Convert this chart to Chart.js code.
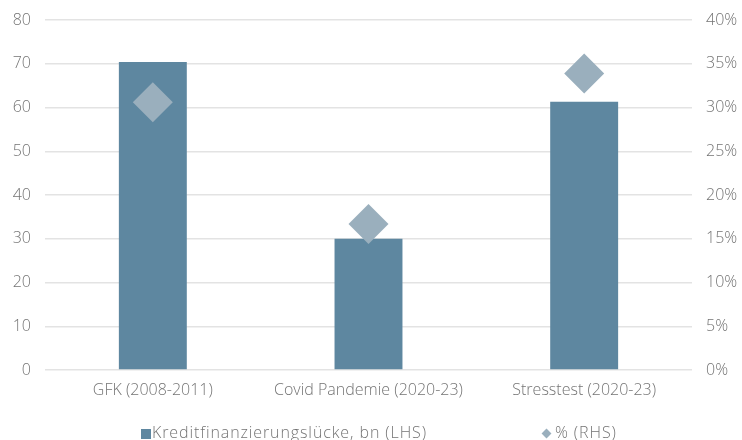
<!DOCTYPE html>
<html>
<head>
<meta charset="utf-8">
<script src="https://cdn.jsdelivr.net/npm/chart.js@4"></script>
<style>
  html, body { margin: 0; padding: 0; background: #fff; }
  #wrap { position: relative; width: 742px; height: 440px; }
  #legend {
    position: absolute; left: 0; top: 422px; width: 742px; height: 20px;
    font-family: 'Open Sans', sans-serif; font-weight: 300; font-size: 16px; color: #747474; letter-spacing: 0.9px;
  }
  .item { position: absolute; top: 0; white-space: nowrap; line-height: 20px; }
  .box { display: inline-block; width: 10px; height: 10px; background: #5e87a0; margin-right: 1px; vertical-align: -1px; }
  .dia { display: inline-block; width: 7px; height: 7px; background: #9aafbd; transform: rotate(45deg); margin-right: 5px; vertical-align: 1px; }
</style>
</head>
<body>
<div id="wrap">
  <canvas id="chart" width="742" height="440"></canvas>
  <div id="legend">
    <span class="item" style="left:141px"><span class="box"></span>Kreditfinanzierungslücke, bn (LHS)</span>
    <span class="item" style="left:543px"><span class="dia"></span>% (RHS)</span>
  </div>
</div>
<script>
// 데이터
const categories = ['GFK (2008-2011)', 'Covid Pandemie (2020-23)', 'Stresstest (2020-23)'];
const gapValues = [70.4, 30, 61.3];      // bn (LHS)
const pctValues = [30.6, 16.7, 33.9];    // % (RHS)

const textColor = '#747474';
const gridColor = '#e3e3e3';
const fontFamily = "'Open Sans', sans-serif";
const tickFont = { family: fontFamily, size: 16, weight: 300 };

// y축 여백 고정
function fixY(width) {
    return s => {
        s.width = width;
        s.paddingTop = 0;
        s.paddingBottom = 0;
    };
}

const ctx = document.getElementById('chart').getContext('2d');

new Chart(ctx, {
    data: {
        labels: categories,
        datasets: [
            {
                type: 'line',
                label: '% (RHS)',
                data: pctValues,
                yAxisID: 'y1',
                showLine: false,
                pointStyle: 'rectRot',
                pointRadius: 20,
                pointHoverRadius: 20,
                pointBackgroundColor: '#9aafbd',
                pointBorderWidth: 0,
                order: 0
            },
            {
                type: 'bar',
                label: 'Kreditfinanzierungslücke, bn (LHS)',
                data: gapValues,
                yAxisID: 'y',
                backgroundColor: '#5e87a0',
                categoryPercentage: 1,
                barPercentage: 0.315,
                order: 1
            }
        ]
    },
    options: {
        responsive: false,
        animation: false,
        layout: { padding: { top: 20, bottom: 40, left: 0, right: 0 } },
        plugins: {
            legend: { display: false },
            tooltip: { enabled: false }
        },
        scales: {
            x: {
                grid: { display: false, drawTicks: false },
                border: { display: false },
                ticks: { color: textColor, font: tickFont, padding: 11 },
                afterFit: s => { s.height = 30; s.paddingLeft = 0; s.paddingRight = 0; }
            },
            y: {
                position: 'left',
                min: 0, max: 80,
                ticks: { stepSize: 10, color: textColor, font: tickFont, padding: 14 },
                grid: { color: gridColor, lineWidth: 1.5, drawTicks: false },
                border: { display: false },
                afterFit: fixY(45)
            },
            y1: {
                position: 'right',
                min: 0, max: 40,
                ticks: {
                    stepSize: 5, color: textColor, font: tickFont, padding: 14,
                    callback: v => v + '%'
                },
                grid: { display: false, drawTicks: false },
                border: { display: false },
                afterFit: fixY(50)
            }
        }
    }
});
</script>
</body>
</html>
